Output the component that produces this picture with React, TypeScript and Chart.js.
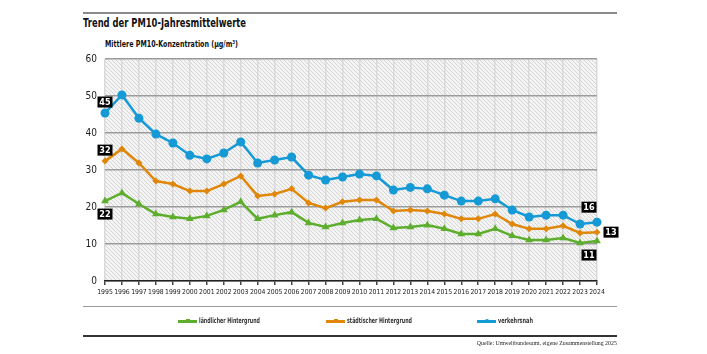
import React, { useEffect, useLayoutEffect, useRef } from "react";
import { Chart, registerables } from "chart.js";

Chart.register(...registerables);

const years = ["1995","1996","1997","1998","1999","2000","2001","2002","2003","2004","2005","2006","2007","2008","2009","2010","2011","2012","2013","2014","2015","2016","2017","2018","2019","2020","2021","2022","2023","2024"];

const laendlich = [21.6,23.8,20.8,18.1,17.3,16.8,17.6,19.2,21.4,16.8,17.8,18.6,15.7,14.6,15.7,16.5,16.8,14.3,14.6,15.1,14.1,12.7,12.7,14.1,12.2,11.1,11.1,11.6,10.3,10.8];
const staedtisch = [32.4,35.7,31.9,27.0,26.2,24.3,24.3,26.2,28.4,23.0,23.5,24.9,21.1,19.7,21.4,21.9,21.9,18.9,19.2,18.9,18.1,16.8,16.8,18.1,15.4,14.1,14.1,14.9,13.0,13.2];
const verkehrsnah = [45.4,50.3,44.0,39.7,37.3,34.0,33.0,34.6,37.6,31.9,32.7,33.5,28.6,27.3,28.1,28.9,28.4,24.6,25.3,24.9,23.2,21.6,21.6,22.2,19.2,17.3,17.8,17.8,15.4,15.9];

const seriesNames = ["ländlicher Hintergrund", "städtischer Hintergrund", "verkehrsnah"];
const seriesColors = ["#5eae2e", "#e0870a", "#159ad6"];

const FONT = '"DejaVu Sans", "Liberation Sans", sans-serif';

function makePattern(): CanvasPattern | string {
  const c = document.createElement("canvas");
  c.width = 4;
  c.height = 4;
  const g = c.getContext("2d");
  if (!g) return "#eee";
  g.fillStyle = "#f4f4f4";
  g.fillRect(0, 0, 4, 4);
  g.strokeStyle = "#d6d6d6";
  g.lineWidth = 1;
  g.beginPath();
  g.moveTo(0, 0);
  g.lineTo(4, 4);
  g.moveTo(-1, 3);
  g.lineTo(1, 5);
  g.moveTo(3, -1);
  g.lineTo(5, 1);
  g.stroke();
  const p = g.createPattern(c, "repeat");
  return p || "#eee";
}

// value labels: dataset index, point index, pixel offset (dx, dy)
const valueLabels = [
  { ds: 2, i: 0, dx: 0, dy: -11 },
  { ds: 1, i: 0, dx: 0, dy: -11 },
  { ds: 0, i: 0, dx: 0, dy: 13 },
  { ds: 2, i: 29, dx: -8, dy: -15 },
  { ds: 1, i: 29, dx: 14, dy: 0 },
  { ds: 0, i: 29, dx: -8, dy: 14 },
];

const bgPlugin = {
  id: "hatchBg",
  beforeDraw(chart: any) {
    const { ctx, chartArea } = chart;
    if (!chartArea) return;
    ctx.save();
    ctx.fillStyle = makePattern();
    ctx.fillRect(chartArea.left, chartArea.top, chartArea.right - chartArea.left, chartArea.bottom - chartArea.top);
    ctx.restore();
  },
};

const labelPlugin = {
  id: "valueLabels",
  afterDatasetsDraw(chart: any) {
    const { ctx } = chart;
    const xs = chart.scales.x;
    const ys = chart.scales.y;
    ctx.save();
    ctx.font = "bold condensed 9px " + FONT;
    ctx.textAlign = "center";
    ctx.textBaseline = "middle";
    valueLabels.forEach((l) => {
      const v = chart.data.datasets[l.ds].data[l.i] as number;
      const x = xs.getPixelForValue(l.i) + l.dx;
      const y = ys.getPixelForValue(v) + l.dy;
      const txt = String(Math.round(v));
      const w = 15, h = 11;
      ctx.fillStyle = "#000";
      ctx.fillRect(x - w / 2, y - h / 2, w, h);
      ctx.fillStyle = "#fff";
      ctx.fillText(txt, x, y + 0.5);
    });
    ctx.restore();
  },
};

function FitText(props: { left: number; top: number; width: number; style: any; children: any; right?: boolean }) {
  const ref = useRef<HTMLSpanElement | null>(null);
  useLayoutEffect(() => {
    const el = ref.current;
    if (!el) return;
    el.style.transform = "none";
    const w = el.getBoundingClientRect().width;
    if (w > 0) el.style.transform = `scaleX(${props.width / w})`;
  }, []);
  return (
    <span
      ref={ref}
      style={{
        position: "absolute",
        left: props.right ? undefined : props.left,
        right: props.right ? 707 - props.left : undefined,
        top: props.top,
        whiteSpace: "nowrap",
        transformOrigin: props.right ? "right top" : "left top",
        lineHeight: 1,
        ...props.style,
      }}
    >
      {props.children}
    </span>
  );
}

export default function App() {
  const ref = useRef<HTMLCanvasElement | null>(null);

  useEffect(() => {
    if (!ref.current) return;
    const pointStyles = ["triangle", "rectRot", "circle"];
    const radii = [4.5, 3.5, 4.5];
    const data = [laendlich, staedtisch, verkehrsnah];
    const chart = new Chart(ref.current, {
      type: "line",
      data: {
        labels: years,
        datasets: data.map((d, k) => ({
          label: seriesNames[k],
          data: d,
          borderColor: seriesColors[k],
          backgroundColor: seriesColors[k],
          borderWidth: 2.5,
          pointStyle: pointStyles[k] as any,
          pointRadius: radii[k],
          pointBorderWidth: 0,
          tension: 0,
          clip: false as any,
        })),
      },
      options: {
        animation: false,
        responsive: false,
        maintainAspectRatio: false,
        devicePixelRatio: 1,
        layout: { padding: { left: 0, right: 110, top: 59, bottom: 53 } },
        plugins: {
          legend: { display: false },
          tooltip: { enabled: false },
          title: { display: false },
        },
        scales: {
          x: {
            offset: false,
            afterFit(scale: any) { scale.height = 20; },
            grid: {
              color: "#d8d8d8",
              lineWidth: 1.5,
              drawTicks: true,
              tickLength: 4,
              tickColor: "#444",
            },
            border: { display: true, color: "#222", width: 1.5 },
            ticks: {
              autoSkip: false,
              maxRotation: 0,
              minRotation: 0,
              padding: 3,
              color: "#222",
              font: { family: FONT, size: 6.8, weight: "normal condensed" as any },
            },
          },
          y: {
            min: 0,
            max: 60,
            afterFit(scale: any) { scale.width = 105; },
            grid: { color: "#9c9c9c", lineWidth: 1.5, drawTicks: false },
            border: { display: false },
            ticks: {
              stepSize: 10,
              padding: 8,
              color: "#222",
              font: { family: FONT, size: 10, weight: "normal condensed" as any },
            },
          },
        },
      },
      plugins: [bgPlugin, labelPlugin],
    });
    return () => chart.destroy();
  }, []);

  const legendPos = [178, 326, 477];
  const legendTextW = [61, 65, 35];

  return (
    <div style={{ position: "fixed", left: 0, top: 0, width: 707, height: 354, background: "#fff", fontFamily: FONT, overflow: "hidden" }}>
      <div style={{ position: "absolute", left: 83, top: 12, width: 534, height: 2, background: "#8a8a8a" }} />
      <FitText left={83} top={17} width={163} style={{ fontWeight: "bold", fontSize: 12.5, color: "#111" }}>
        Trend der PM10-Jahresmittelwerte
      </FitText>
      <FitText left={105} top={40} width={133} style={{ fontWeight: "bold", fontSize: 9, color: "#111" }}>
        Mittlere PM10-Konzentration (µg/m³)
      </FitText>
      <canvas ref={ref} width={707} height={354} style={{ position: "absolute", left: 0, top: 0, width: 707, height: 354 }} />
      <div style={{ position: "absolute", left: 83, top: 306, width: 534, height: 1, background: "#9a9a9a" }} />
      <div style={{ position: "absolute", left: 83, top: 335, width: 534, height: 1.5, background: "#333" }} />
      {seriesNames.map((n, k) => (
        <React.Fragment key={n}>
          <div style={{ position: "absolute", left: legendPos[k], top: 320, width: 19, height: 2.5, background: seriesColors[k] }}>
            <div style={{ position: "absolute", left: 8, top: -1, width: 4, height: 4, background: seriesColors[k], borderRadius: k === 2 ? 2 : 0 }} />
          </div>
          <FitText left={legendPos[k] + 21} top={317} width={legendTextW[k]} style={{ fontSize: 7.5, fontWeight: "bold", color: "#333" }}>
            {n}
          </FitText>
        </React.Fragment>
      ))}
      <FitText left={617} right top={340} width={140} style={{ fontSize: 6, color: "#222", fontFamily: '"Liberation Serif", serif' }}>
        Quelle: Umweltbundesamt, eigene Zusammenstellung 2025
      </FitText>
    </div>
  );
}
